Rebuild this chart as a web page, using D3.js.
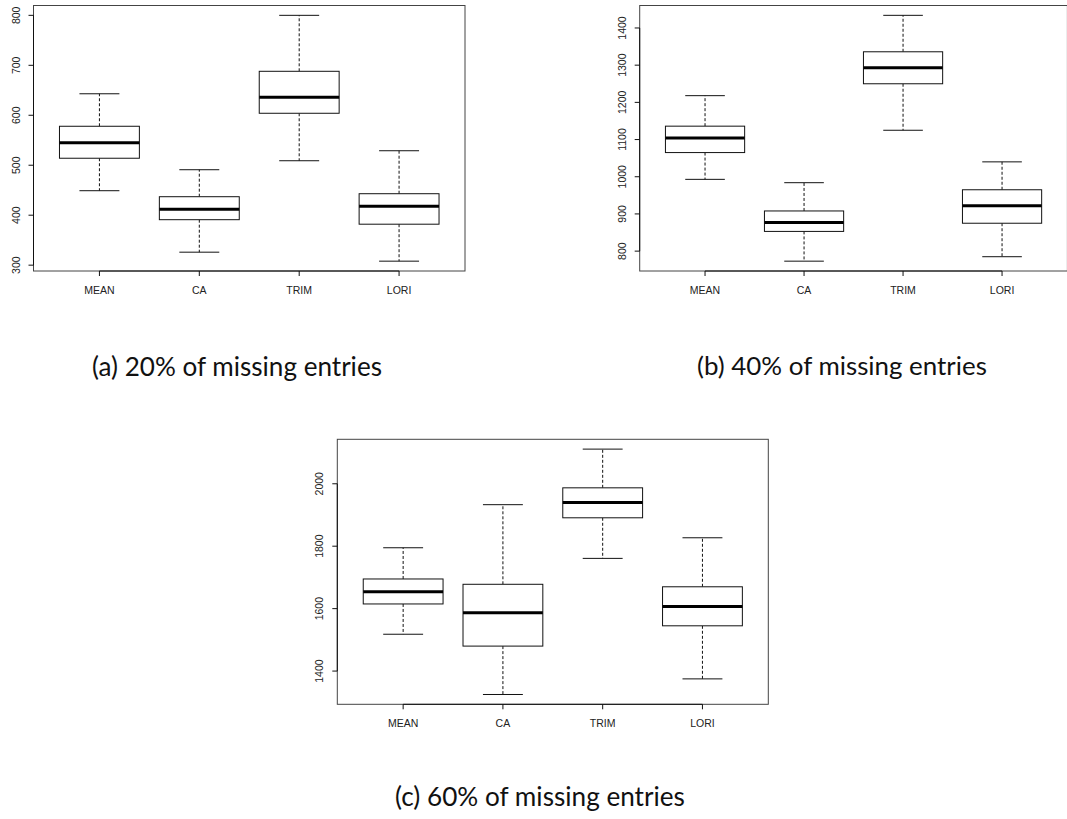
<!DOCTYPE html>
<html><head><meta charset="utf-8">
<script src="https://cdn.jsdelivr.net/npm/d3@7"></script>
<style>body{margin:0;background:#fff;overflow:hidden}</style>
</head><body><svg id="c" width="1067" height="819"></svg>
<script>
const categories = ["MEAN","CA","TRIM","LORI"];

const lower20  = [449, 326, 509, 308];
const q1_20    = [514, 391, 604, 382];
const median20 = [545, 412, 636, 418];
const q3_20    = [578, 437, 688, 443];
const upper20  = [643, 491, 800, 529];
const ticks20  = [300, 400, 500, 600, 700, 800];

const lower40  = [993, 773, 1125, 785];
const q1_40    = [1065, 853, 1250, 875];
const median40 = [1104, 877, 1293, 922];
const q3_40    = [1136, 908, 1336, 965];
const upper40  = [1218, 984, 1434, 1040];
const ticks40  = [800, 900, 1000, 1100, 1200, 1300, 1400];

const lower60  = [1518, 1325, 1761, 1375];
const q1_60    = [1615, 1480, 1891, 1545];
const median60 = [1654, 1587, 1940, 1607];
const q3_60    = [1695, 1678, 1987, 1670];
const upper60  = [1795, 1933, 2111, 1827];
const ticks60  = [1400, 1600, 1800, 2000];

const captions = ["(a) 20% of missing entries", "(b) 40% of missing entries", "(c) 60% of missing entries"];

const panels = [
  {lo: lower20, q1: q1_20, med: median20, q3: q3_20, hi: upper20, ticks: ticks20, caption: captions[0],
   left: 33.5, right: 465, top: 5.5, bottom: 271, capX: 237, capY: 376},
  {lo: lower40, q1: q1_40, med: median40, q3: q3_40, hi: upper40, ticks: ticks40, caption: captions[1],
   left: 639.7, right: 1067.4, top: 5.5, bottom: 271, capX: 842, capY: 375},
  {lo: lower60, q1: q1_60, med: median60, q3: q3_60, hi: upper60, ticks: ticks60, caption: captions[2],
   left: 337.3, right: 768.3, top: 439.3, bottom: 704.3, capX: 540, capY: 806}
];

const svg = d3.select("#c");
const tickFont = "'Liberation Sans', Arial, sans-serif";
const capFont = "Lato, 'Open Sans', sans-serif";

panels.forEach(p => {
  const n = categories.length;
  const x = d3.scaleLinear().domain([0.5 - 0.04 * n, n + 0.5 + 0.04 * n]).range([p.left, p.right]);
  const all = p.lo.concat(p.hi);
  const mn = d3.min(all), mx = d3.max(all), r = mx - mn;
  const y = d3.scaleLinear().domain([mn - 0.04 * r, mx + 0.04 * r]).range([p.bottom, p.top]);
  const g = svg.append("g");

  // frame
  g.append("rect").attr("x", p.left).attr("y", p.top)
    .attr("width", p.right - p.left).attr("height", p.bottom - p.top)
    .attr("fill", "none").attr("stroke", "#444").attr("stroke-width", 1);

  // y axis
  const ya = g.append("g");
  ya.append("line").attr("x1", p.left).attr("x2", p.left)
    .attr("y1", y(d3.min(p.ticks))).attr("y2", y(d3.max(p.ticks)))
    .attr("stroke", "#111").attr("stroke-width", 1);
  p.ticks.forEach(t => {
    ya.append("line").attr("x1", p.left - 5).attr("x2", p.left)
      .attr("y1", y(t)).attr("y2", y(t)).attr("stroke", "#111").attr("stroke-width", 1);
    ya.append("text").attr("transform", `translate(${p.left - 18},${y(t)}) rotate(-90)`)
      .attr("text-anchor", "middle").attr("dominant-baseline", "central")
      .attr("font-family", tickFont).attr("font-size", 10.5).attr("fill", "#222").text(t);
  });

  // x axis
  const xa = g.append("g");
  xa.append("line").attr("x1", x(1)).attr("x2", x(n)).attr("y1", p.bottom).attr("y2", p.bottom)
    .attr("stroke", "#111").attr("stroke-width", 1);
  categories.forEach((c, i) => {
    xa.append("line").attr("x1", x(i + 1)).attr("x2", x(i + 1))
      .attr("y1", p.bottom).attr("y2", p.bottom + 5).attr("stroke", "#111").attr("stroke-width", 1);
    xa.append("text").attr("x", x(i + 1)).attr("y", p.bottom + 19)
      .attr("text-anchor", "middle").attr("dominant-baseline", "central")
      .attr("font-family", tickFont).attr("font-size", 10.5).attr("fill", "#222").text(c);
  });

  // boxes
  categories.forEach((c, i) => {
    const cx = x(i + 1), hw = x(1.4) - x(1), cw = x(1.2) - x(1);
    const bg = g.append("g");
    // whiskers
    bg.append("line").attr("x1", cx).attr("x2", cx).attr("y1", y(p.q3[i])).attr("y2", y(p.hi[i]))
      .attr("stroke", "#111").attr("stroke-width", 1).attr("stroke-dasharray", "3,2");
    bg.append("line").attr("x1", cx).attr("x2", cx).attr("y1", y(p.q1[i])).attr("y2", y(p.lo[i]))
      .attr("stroke", "#111").attr("stroke-width", 1).attr("stroke-dasharray", "3,2");
    // caps
    [p.hi[i], p.lo[i]].forEach(v => {
      bg.append("line").attr("x1", cx - cw).attr("x2", cx + cw).attr("y1", y(v)).attr("y2", y(v))
        .attr("stroke", "#111").attr("stroke-width", 1);
    });
    // box
    bg.append("rect").attr("x", cx - hw).attr("y", y(p.q3[i]))
      .attr("width", 2 * hw).attr("height", y(p.q1[i]) - y(p.q3[i]))
      .attr("fill", "#fff").attr("stroke", "#111").attr("stroke-width", 1);
    // median
    bg.append("line").attr("x1", cx - hw).attr("x2", cx + hw).attr("y1", y(p.med[i])).attr("y2", y(p.med[i]))
      .attr("stroke", "#000").attr("stroke-width", 3);
  });

  // caption
  const cap = svg.append("text").attr("x", p.capX).attr("y", p.capY)
    .attr("text-anchor", "middle").attr("font-family", capFont)
    .attr("font-size", 22).attr("fill", "#111").text(p.caption);
  const w = cap.node().getComputedTextLength();
  cap.attr("font-size", 22 * 290 / w);
});
</script>
</body></html>
